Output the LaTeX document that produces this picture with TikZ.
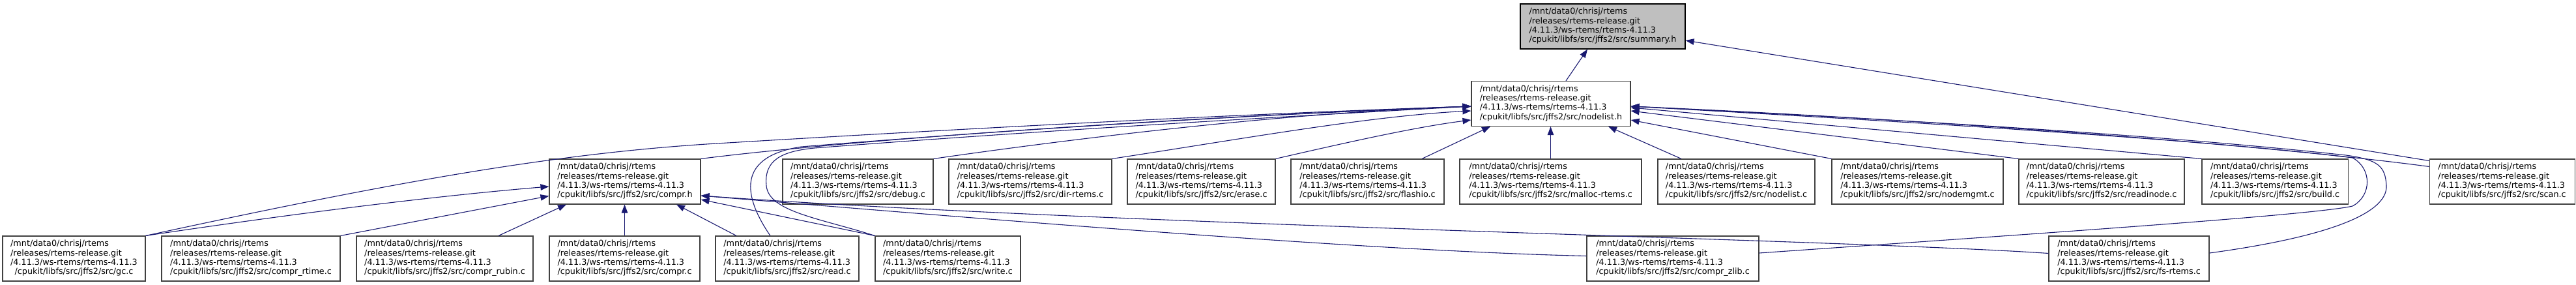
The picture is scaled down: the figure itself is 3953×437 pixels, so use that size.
\documentclass[tikz,border=0pt]{standalone}
\usepackage{fontspec}
\setmainfont{DejaVu Sans}
\usetikzlibrary{arrows.meta}
\definecolor{edgec}{HTML}{191970}
\definecolor{boxc}{HTML}{404040}
\definecolor{rootfill}{HTML}{BFBFBF}
\newcommand\flabel[1]{\begin{tabular}{@{}l@{}}/mnt/data0/chrisj/rtems\\/releases/rtems-release.git\\/4.11.3/ws-rtems/rtems-4.11.3\\\multicolumn{1}{@{}c@{}}{/cpukit/libfs/src/jffs2/src/#1}\end{tabular}}
\tikzset{
  file/.style={draw=boxc, line width=1.1bp, fill=white, minimum height=69bp, inner xsep=0pt, inner ysep=0pt, font=\fontsize{12.8}{14.3}\selectfont, anchor=center},
  root/.style={file, draw=black, fill=rootfill},
  edge/.style={draw=edgec, line width=1.1bp, -{Triangle[length=13bp,width=9.5bp]}}
}
\begin{document}
\begin{tikzpicture}[x=1bp,y=-1bp]
\useasboundingbox (0,0) rectangle (3953,437);
% top
\node[root, minimum width=253bp] (sum) at (2459.5,40.5) {\flabel{summary.h}};
\node[file, minimum width=244bp] (nl) at (2380,159) {\flabel{nodelist.h}};
% row 2
\node[file, minimum width=232bp] (comprh) at (959,278.5) {\flabel{compr.h}};
\node[file, minimum width=231bp] (debug) at (1316.5,278.5) {\flabel{debug.c}};
\node[file, minimum width=250bp] (dir) at (1581,278.5) {\flabel{dir-rtems.c}};
\node[file, minimum width=227bp] (erase) at (1843.5,278.5) {\flabel{erase.c}};
\node[file, minimum width=235bp] (flashio) at (2098.5,278.5) {\flabel{flashio.c}};
\node[file, minimum width=279bp] (malloc) at (2379.5,278.5) {\flabel{malloc-rtems.c}};
\node[file, minimum width=241bp] (nlc) at (2664.5,278.5) {\flabel{nodelist.c}};
\node[file, minimum width=263bp] (nodemgmt) at (2942.5,278.5) {\flabel{nodemgmt.c}};
\node[file, minimum width=254bp] (readinode) at (3225,278.5) {\flabel{readinode.c}};
\node[file, minimum width=224bp] (build) at (3491,278.5) {\flabel{build.c}};
\node[file, minimum width=223bp] (scan) at (3839.5,278.5) {\flabel{scan.c}};
% row 3
\node[file, minimum width=219bp] (gc) at (113.5,396.5) {\flabel{gc.c}};
\node[file, minimum width=274bp] (rtime) at (385,396.5) {\flabel{compr\_rtime.c}};
\node[file, minimum width=271bp] (rubin) at (682.5,396.5) {\flabel{compr\_rubin.c}};
\node[file, minimum width=231bp] (comprc) at (958.5,396.5) {\flabel{compr.c}};
\node[file, minimum width=220bp] (read) at (1208,396.5) {\flabel{read.c}};
\node[file, minimum width=223bp] (write) at (1454.5,396.5) {\flabel{write.c}};
\node[file, minimum width=264bp] (zlib) at (2567,396.5) {\flabel{compr\_zlib.c}};
\node[file, minimum width=246bp] (fs) at (3267,396.5) {\flabel{fs-rtems.c}};
% edges to summary.h
\draw[edge] ([xshift=23bp]nl.north) -- ([xshift=-23.5bp]sum.south);
\draw[edge] ([yshift=-3bp]scan.north west) -- ([yshift=-21.5bp]sum.east);
% edges to nodelist.h
\draw[edge] ([yshift=-12bp]scan.north west) .. controls (3500,225) and (3000,185) .. ([yshift=-4bp]nl.east);
\draw[edge] (build.north west) -- ([yshift=-6bp]nl.east);
\draw[edge] (readinode.north west) -- ([yshift=-11bp]nl.east);
\draw[edge] (nodemgmt.north west) -- ([yshift=-25bp]nl.east);
\draw[edge] ([xshift=-84.5bp]nlc.north) -- ([xshift=88bp]nl.south);
\draw[edge] (malloc.north) -- (malloc.north |- nl.south);
\draw[edge] ([xshift=83.5bp]flashio.north) -- ([xshift=-93bp]nl.south);
\draw[edge] (erase.north east) .. controls (2060,220) and (2170,195) .. ([yshift=-25bp]nl.west);
\draw[edge] (dir.north east) .. controls (1900,214) and (2100,178) .. ([yshift=-11bp]nl.west);
\draw[edge] (debug.north east) .. controls (1700,205) and (2000,172) .. ([yshift=-4bp]nl.west);
\draw[edge] (comprh.north east) .. controls (1300,215) and (1800,180) .. ([yshift=-4bp]nl.west);
\draw[edge] (gc.north east) .. controls (600,280) and (850,235) .. (1100,220) .. controls (1500,196) and (1900,175) .. ([yshift=-4bp]nl.west);
\draw[edge] ([xshift=-26bp]read.north) .. controls (1140,300) and (1130,240) .. (1230,225) .. controls (1600,195) and (1950,175) .. ([yshift=-4bp]nl.west);
\draw[edge] (write.north west) .. controls (1260,335) and (1180,325) .. (1176,285) .. controls (1172,245) and (1200,232) .. (1250,227) .. controls (1600,200) and (1950,180) .. ([yshift=-4bp]nl.west);
\draw[edge] ([yshift=8.5bp]zlib.east) .. controls (3100,360) and (3550,330) .. (3610,316) .. controls (3640,300) and (3640,258) .. (3610,242) .. controls (3400,215) and (2900,185) .. ([yshift=-4bp]nl.east);
\draw[edge] ([yshift=8.5bp]fs.east) .. controls (3560,365) and (3665,330) .. (3662,284) .. controls (3660,255) and (3650,245) .. (3600,238) .. controls (3300,205) and (2900,183) .. ([yshift=-4bp]nl.east);
% edges to compr.h
\draw[edge] (gc.north east) .. controls (420,332) and (650,302) .. ([yshift=-7.5bp]comprh.west);
\draw[edge] (rtime.north east) -- ([yshift=-22bp]comprh.west);
\draw[edge] ([xshift=82.5bp]rubin.north) -- ([xshift=-90bp]comprh.south);
\draw[edge] (comprc.north) -- (comprc.north |- comprh.south);
\draw[edge] ([xshift=-78bp]read.north) -- ([xshift=79bp]comprh.south);
\draw[edge] (write.north west) -- ([yshift=-27.5bp]comprh.east);
\draw[edge] ([yshift=4bp]zlib.west) .. controls (2100,385) and (1500,335) .. ([yshift=-21.5bp]comprh.east);
\draw[edge] ([yshift=8bp]fs.west) .. controls (2850,368) and (1700,345) .. ([yshift=-21.5bp]comprh.east);
\end{tikzpicture}
\end{document}
